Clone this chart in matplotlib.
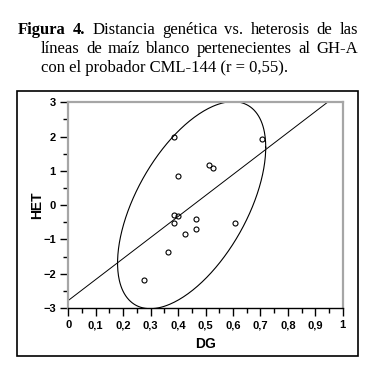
import numpy as np
import matplotlib
matplotlib.use("Agg")
from matplotlib import pyplot as plt

# values
dg = [0.384, 0.399, 0.514, 0.527, 0.706, 0.384, 0.399, 0.384,
      0.464, 0.464, 0.426, 0.606, 0.364, 0.277]
het = [1.99, 0.86, 1.16, 1.07, 1.93, -0.29, -0.32, -0.51,
       -0.40, -0.70, -0.83, -0.51, -1.36, -2.17]

fit_intercept = -2.78
fit_slope = 6.12

# density ellipse: centre, half extents, phase shift between x and y
ell_cx, ell_cy = 0.4495, 0.0
ell_sx, ell_sy = 0.27, 3.02
ell_phase = np.deg2rad(56)

x_ticks = [0, 0.1, 0.2, 0.3, 0.4, 0.5, 0.6, 0.7, 0.8, 0.9, 1]
x_ticklabels = ["0", "0,1", "0,2", "0,3", "0,4", "0,5", "0,6", "0,7", "0,8", "0,9", "1"]
y_ticks = [-3, -2, -1, 0, 1, 2, 3]

title_lines = [
    [("Figura", "bold"), ("4.", "bold"), ("Distancia", "normal"), ("genética", "normal"),
     ("vs.", "normal"), ("heterosis", "normal"), ("de", "normal"), ("las", "normal")],
    [("líneas", "normal"), ("de", "normal"), ("maíz", "normal"), ("blanco", "normal"),
     ("pertenecientes", "normal"), ("al", "normal"), ("GH-A", "normal")],
    [("con el probador CML-144 (r = 0,55).", "normal")],
]

W, H = 368, 379
fig = plt.figure(figsize=(W / 100, H / 100), dpi=100)


def fx(px):
    return px / W


def fy(py):
    return 1 - py / H


ax = fig.add_axes([fx(68.3), fy(308), fx(342.7) - fx(68.3), fy(102.3) - fy(308)])

ax.plot(dg, het, "o", ms=3.6, mfc="none", mec="black", mew=0.8, zorder=3)

xs = np.array([0, 1])
ax.plot(xs, fit_intercept + fit_slope * xs, color="black", lw=0.7)

t = np.linspace(0, 2 * np.pi, 300)
ax.plot(ell_cx + ell_sx * np.cos(t), ell_cy + ell_sy * np.cos(t - ell_phase),
        color="black", lw=0.8)

ax.set_xlim(0, 1)
ax.set_ylim(-3, 3)
ax.set_xticks(x_ticks)
ax.set_xticklabels(x_ticklabels)
ax.set_yticks(y_ticks)
ax.set_xticks(np.arange(0.05, 1, 0.1), minor=True)
ax.set_yticks(np.arange(-2.5, 3, 1), minor=True)
ax.tick_params(which="major", length=6, width=1, direction="out", pad=3,
               labelsize=8, colors="black")
ax.tick_params(which="minor", length=3.5, width=1, direction="out")
for lab in ax.get_xticklabels() + ax.get_yticklabels():
    lab.set_fontweight("bold")
    lab.set_fontfamily("Liberation Sans")

for side in ["left", "top", "right"]:
    ax.spines[side].set_color("#a6a6a6")
    ax.spines[side].set_linewidth(1.6)
ax.spines["bottom"].set_color("black")
ax.spines["bottom"].set_linewidth(1)

ax.set_xlabel("DG", fontsize=10, fontweight="bold", family="Liberation Sans", labelpad=5)
ax.set_ylabel("HET", fontsize=10, fontweight="bold", family="Liberation Sans", labelpad=-1)

# outer frame round the chart
fig.patches.append(plt.Rectangle((fx(17), fy(355.5)), fx(358) - fx(17), fy(91) - fy(355.5),
                                 transform=fig.transFigure, fill=False,
                                 edgecolor="black", lw=1.2))

# justified caption
renderer = fig.canvas.get_renderer()
line_left = [18, 41, 41]
line_right = [358, 358, None]
baselines = [34.3, 53.3, 72.3]
for words, xl, xr, yb in zip(title_lines, line_left, line_right, baselines):
    texts = [fig.text(0, fy(yb), w, fontsize=12, fontweight=wt, family="Liberation Serif",
                      va="baseline", ha="left") for w, wt in words]
    widths = [tx.get_window_extent(renderer).width for tx in texts]
    if xr is None or len(texts) == 1:
        gap = 0
    else:
        gap = (xr - xl - sum(widths)) / (len(texts) - 1)
    x = xl
    for tx, w in zip(texts, widths):
        tx.set_x(fx(x))
        x += w + gap

fig.savefig("out.png", dpi=100)
